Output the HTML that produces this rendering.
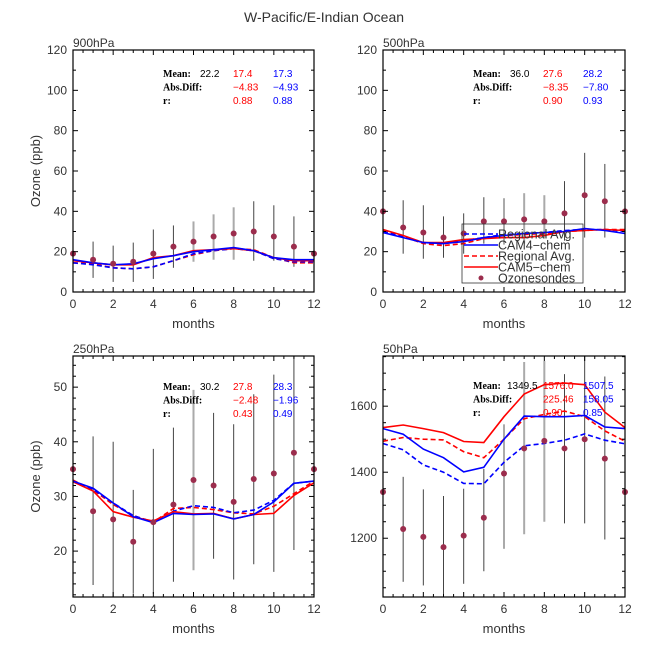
<!DOCTYPE html>
<html><head><meta charset="utf-8">
<style>
html,body{margin:0;padding:0;background:#fff;}
svg{display:block;}
text{font-family:"Liberation Sans",sans-serif;}
.st{font-family:"Liberation Serif",serif;font-size:10px;font-weight:bold;}
</style></head>
<body>
<svg id="chart" width="648" height="648" viewBox="0 0 648 648">
<text x="324" y="22" text-anchor="middle" font-size="14" fill="#333">W-Pacific/E-Indian Ocean</text>
</svg>
<script>
const months = [0,1,2,3,4,5,6,7,8,9,10,11,12];
const panelNames = ["900hPa","500hPa","250hPa","50hPa"];
// 900hPa
const obs900 = [19,16,14,15,19,22.5,25,27.5,29,30,27.5,22.5,19];
const errHi900 = [null,25,23,24.5,31,33,35,38.5,42,45,43,37.5,null];
const errLo900 = [null,7,5,5,6.5,12,15,16,16,15.5,15.5,12.5,null];
const cam5_900 = [15.5,14.5,13.5,13.5,17,18,20.5,21,21.5,20.5,17,15.5,15.5];
const cam5reg900 = [14.5,14,12,11.5,12.5,15.5,18.5,20.5,21.5,21,17,14.5,14.5];
const cam4_900 = [16,14.5,13.5,14,16.5,18,20,21,22,20.5,17,16,16];
const cam4reg900 = [14.5,13.5,12,11.5,12.5,15.5,19,20.5,21.5,20.5,16.5,15,15];
// 500hPa
const obs500 = [40,32,29.5,27,29,35,35,36,35,39,48,45,40];
const errHi500 = [null,45.5,43,37.5,39,47,46.5,49,48,55,69,63.5,null];
const errLo500 = [null,19,16.5,17,19,24,23.5,24,27,25.5,27,27,null];
const cam5_500 = [31,28,24.5,24.5,26,26.5,27,27,28,30,30.5,31,30.5];
const cam5reg500 = [30.5,27.5,24,23,24,26.5,28,28.5,29,30,30.5,31,31];
const cam4_500 = [29.5,27,24.5,24,25,27,28,29,29.5,30,31.5,30.5,29];
const cam4reg500 = [30,27.5,24.5,24,25.5,27,28.5,29,29.5,30.5,31,31,30];
// 250hPa
const obs250 = [35,27.3,25.8,21.7,25.3,28.5,33,32,29,33.2,34.2,38,35];
const errHi250 = [null,41,40,31.2,38.7,42.6,49.5,45.3,43.2,48.7,52.3,55.7,null];
const errLo250 = [null,13.8,11.6,12.2,12.2,14.4,16.5,18.6,14.8,17.6,16.2,20.2,null];
const cam5_250 = [32.7,31,27.2,26.2,25.5,27.2,26.8,26.9,25.9,26.7,26.9,30.2,32.5];
const cam5reg250 = [33,31.2,28.5,26.5,25.3,27.8,28,27.6,27,26.8,28.2,30.5,32.8];
const cam4_250 = [32.8,31.5,28.8,26.3,25.2,26.9,26.7,26.8,25.9,26.7,29,32.4,32.8];
const cam4reg250 = [32.8,31.3,28.8,26.5,25.3,27.3,28.3,28,27,27.5,29.3,32.4,32.8];
// 50hPa
const obs50 = [1340,1228,1204,1173,1208,1262,1396,1472,1495,1472,1500,1441,1340];
const errHi50 = [null,1386,1348,1328,1350,1410,1545,1734,1737,1697,1752,1690,null];
const errLo50 = [null,1068,1057,1020,1062,1100,1168,1212,1250,1245,1245,1196,null];
const cam5_50 = [1535,1543,1532,1520,1493,1490,1568,1637,1665,1670,1665,1582,1535];
const cam5reg50 = [1494,1505,1500,1498,1462,1444,1500,1562,1575,1585,1568,1525,1494];
const cam4_50 = [1532,1515,1470,1444,1401,1415,1500,1570,1568,1568,1572,1537,1532];
const cam4reg50 = [1487,1468,1422,1400,1366,1365,1430,1480,1487,1497,1516,1497,1486];
// tick labels
const yTicks900 = [0,20,40,60,80,100,120];
const yTicks500 = [0,20,40,60,80,100,120];
const yTicks250 = [20,30,40,50];
const yTicks50 = [1200,1400,1600];
const xTicks = [0,2,4,6,8,10,12];
// stats
const stats900 = [["22.2","17.4","17.3"],["","−4.83","−4.93"],["","0.88","0.88"]];
const stats500 = [["36.0","27.6","28.2"],["","−8.35","−7.80"],["","0.90","0.93"]];
const stats250 = [["30.2","27.8","28.3"],["","−2.48","−1.96"],["","0.43","0.49"]];
const stats50 = [["1349.5","1576.0","1507.5"],["","225.46","158.05"],["","0.90","0.85"]];

const NS="http://www.w3.org/2000/svg";
const svg=document.getElementById('chart');
function mk(tag,attrs,parent){const e=document.createElementNS(NS,tag);for(const k in attrs)e.setAttribute(k,attrs[k]);(parent||svg).appendChild(e);return e;}

const panels=[
 {x0:73,x1:314,y0:50,y1:292,ymin:0,ymax:120,ticks:yTicks900,minor:10,obs:obs900,hi:errHi900,lo:errLo900,c5:cam5_900,c5r:cam5reg900,c4:cam4_900,c4r:cam4reg900,st:stats900,sx:163,sy:77,ylab:true,name:"panel-900hpa",title:panelNames[0]},
 {x0:383,x1:625,y0:50,y1:292,ymin:0,ymax:120,ticks:yTicks500,minor:10,obs:obs500,hi:errHi500,lo:errLo500,c5:cam5_500,c5r:cam5reg500,c4:cam4_500,c4r:cam4reg500,st:stats500,sx:473,sy:77,ylab:false,legend:true,name:"panel-500hpa",title:panelNames[1]},
 {x0:73,x1:314,y0:356,y1:597,ymin:11.6,ymax:55.7,ticks:yTicks250,minor:2,obs:obs250,hi:errHi250,lo:errLo250,c5:cam5_250,c5r:cam5reg250,c4:cam4_250,c4r:cam4reg250,st:stats250,sx:163,sy:390,ylab:true,name:"panel-250hpa",title:panelNames[2]},
 {x0:383,x1:625,y0:356,y1:597,ymin:1022,ymax:1752,ticks:yTicks50,minor:50,obs:obs50,hi:errHi50,lo:errLo50,c5:cam5_50,c5r:cam5reg50,c4:cam4_50,c4r:cam4reg50,st:stats50,sx:473,sy:389,ylab:false,name:"panel-50hpa",title:panelNames[3]}
];

panels.forEach((p,pi)=>{
 const g=mk('g',{});
 
 
 const X=m=>p.x0+(m-0)/12*(p.x1-p.x0);
 const Y=v=>p.y1-(v-p.ymin)/(p.ymax-p.ymin)*(p.y1-p.y0);
 const cid='clip'+pi;
 const cp=mk('clipPath',{id:cid},g);mk('rect',{x:p.x0,y:p.y0,width:p.x1-p.x0,height:p.y1-p.y0},cp);
 const eg=mk('g',{'clip-path':`url(#${cid})`},g);
 months.forEach((m,i)=>{
  if(p.hi[i]==null)return;
  const light=(i>=6&&i<=8&&pi!==2)||(pi===2&&i===6)||(pi===3&&i===6);
  const l=mk('line',{x1:X(m),x2:X(m),y1:Y(p.hi[i]),y2:Y(p.lo[i]),stroke:light?'#aaa':'#444','stroke-width':light?2:1},eg);
  
  
 });
 const series=[[p.c5r,'#ff0000','5,3','cam5-regional-line'],[p.c4r,'#0000ff','5,3','cam4-regional-line'],[p.c5,'#ff0000','','cam5-line'],[p.c4,'#0000ff','','cam4-line']];
 series.forEach(s=>{
  const d=s[0].map((v,i)=>(i?'L':'M')+X(months[i]).toFixed(1)+','+Y(v).toFixed(1)).join(' ');
  const pa=mk('path',{d:d,fill:'none',stroke:s[1],'stroke-width':1.6,'stroke-dasharray':s[2]||'none','clip-path':`url(#${cid})`},g);
  
  
 });
 months.forEach((m,i)=>{
  const c=mk('circle',{cx:X(m),cy:Y(p.obs[i]),r:3,fill:'#9b2d4d'},g);
  
  
 });
 mk('rect',{x:p.x0,y:p.y0,width:p.x1-p.x0,height:p.y1-p.y0,fill:'none',stroke:'#000','stroke-width':1.2},g);
 for(let m=0;m<=12;m+=0.5){
  const maj=(m%2===0);const len=maj?5:3;
  mk('line',{x1:X(m),x2:X(m),y1:p.y1,y2:p.y1-len,stroke:'#000'},g);
  mk('line',{x1:X(m),x2:X(m),y1:p.y0,y2:p.y0+len,stroke:'#000'},g);
 }
 xTicks.forEach(t=>{
  const tx=mk('text',{x:X(t),y:p.y1+16,'text-anchor':'middle','font-size':12,fill:'#333'},g);tx.textContent=t;
  
  
 });
 const start=Math.ceil(p.ymin/p.minor)*p.minor;
 for(let v=start;v<=p.ymax;v+=p.minor){
  const maj=p.ticks.includes(Math.round(v));const len=maj?5:3;
  mk('line',{x1:p.x0,x2:p.x0+len,y1:Y(v),y2:Y(v),stroke:'#000'},g);
  mk('line',{x1:p.x1,x2:p.x1-len,y1:Y(v),y2:Y(v),stroke:'#000'},g);
 }
 p.ticks.forEach(t=>{
  const tx=mk('text',{x:p.x0-6,y:Y(t)+4,'text-anchor':'end','font-size':12,fill:'#333'},g);tx.textContent=t;
  
  
 });
 const tt=mk('text',{x:p.x0,y:p.y0-3,'font-size':12,fill:'#333'},g);tt.textContent=p.title;
 
 
 if(p.ylab){
  const cy=(p.y0+p.y1)/2;
  const yl=mk('text',{x:0,y:0,transform:`translate(40,${cy}) rotate(-90)`,'text-anchor':'middle','font-size':13,fill:'#333'},g);yl.textContent='Ozone (ppb)';
  
  
 }
 const xl=mk('text',{x:(p.x0+p.x1)/2,y:p.y1+36,'text-anchor':'middle','font-size':13,fill:'#333'},g);xl.textContent='months';
 
 
 const rows=['Mean:','Abs.Diff:','r:'];
 const off=p.st[0][0].length>4?[34,70,110]:[37,70,110];
 rows.forEach((r,ri)=>{
  const y=p.sy+ri*13.5;
  const a=mk('text',{x:p.sx,y:y,class:'st',fill:'#000'},g);a.textContent=r;
  
  
  [[p.st[ri][0],'#000',off[0]],[p.st[ri][1],'#ff0000',off[1]],[p.st[ri][2],'#0000ff',off[2]]].forEach(v=>{
   if(!v[0])return;
   const t=mk('text',{x:p.sx+v[2],y:y,'font-size':10,fill:v[1]},g);t.textContent=v[0];
   
   
  });
 });
 if(p.legend){
  const lg=mk('g',{},g);
  
  
  mk('rect',{x:462,y:224,width:121,height:59,fill:'none',stroke:'#333','stroke-width':0.8},lg);
  const ent=[['Regional Avg.','#0000ff','5,3',0],['CAM4−chem','#0000ff','',0],['Regional Avg.','#ff0000','5,3',0],['CAM5−chem','#ff0000','',0],['Ozonesondes','#9b2d4d','',1]];
  ent.forEach((e,i)=>{
   const y=234+i*11;
   if(e[3]){const c=mk('circle',{cx:481,cy:y,r:2.5,fill:e[1]},lg);}
   else{const l=mk('line',{x1:464,x2:498,y1:y,y2:y,stroke:e[1],'stroke-width':1.6,'stroke-dasharray':e[2]||'none'},lg);}
   const t=mk('text',{x:498,y:y+4.5,'font-size':12.5,fill:'#333'},lg);t.textContent=e[0];
   
   
  });
 }
});
</script>
</body></html>
